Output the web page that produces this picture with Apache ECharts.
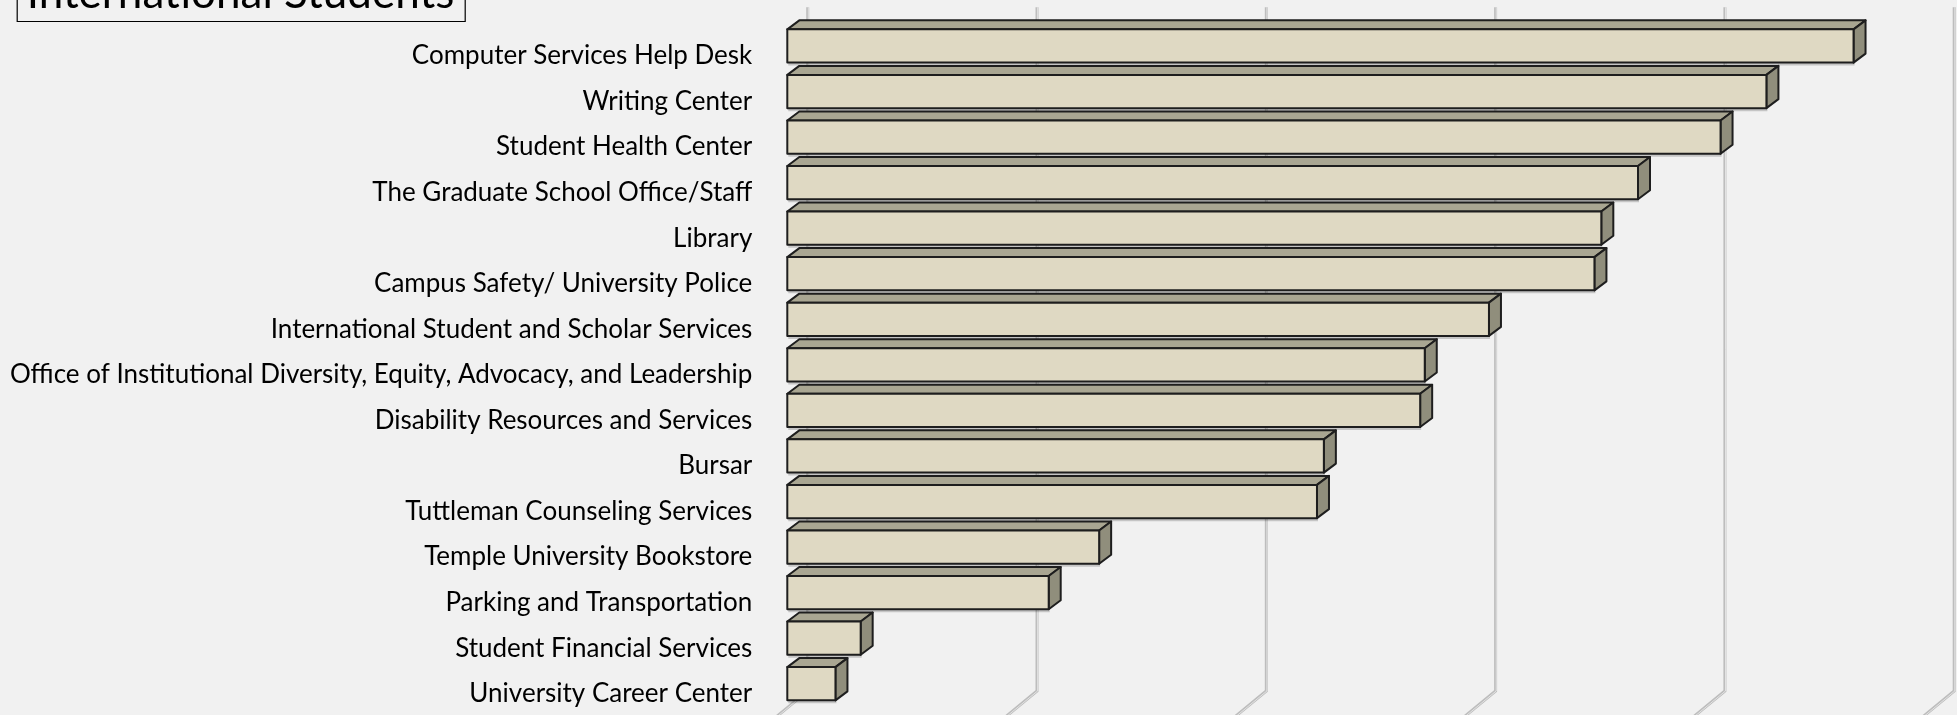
<!DOCTYPE html>
<html>
<head>
<meta charset="utf-8">
<script src="https://cdn.jsdelivr.net/npm/echarts@6/dist/echarts.min.js"></script>
<style>
html,body{margin:0;padding:0;background:#f1f1f1;}
#chart{width:1957px;height:715px;}
</style>
</head>
<body>
<div id="chart"></div>
<script>
const titleText = 'International Students';
const categories = [
  'Computer Services Help Desk',
  'Writing Center',
  'Student Health Center',
  'The Graduate School Office/Staff',
  'Library',
  'Campus Safety/ University Police',
  'International Student and Scholar Services',
  'Office of Institutional Diversity, Equity, Advocacy, and Leadership',
  'Disability Resources and Services',
  'Bursar',
  'Tuttleman Counseling Services',
  'Temple University Bookstore',
  'Parking and Transportation',
  'Student Financial Services',
  'University Career Center'
];
const values = [46.5, 42.7, 40.7, 37.1, 35.5, 35.2, 30.6, 27.8, 27.6, 23.4, 23.1, 13.6, 11.4, 3.2, 2.1];
const gridTicks = [0, 10, 20, 30, 40, 50];

const chart = echarts.init(document.getElementById('chart'), null, {renderer: 'canvas'});

const DX = 12, DY = 9;          // bar depth offsets
const WALL_DX = 20.4;           // back wall offset from front plane
const FRONT = '#dfd9c3', TOP = '#a9a692', SIDE = '#908e7c', EDGE = '#1e1e1e';

function renderBar(params, api) {
  const cat = api.value(1);
  const p0 = api.coord([0, cat]);
  const p1 = api.coord([api.value(0), cat]);
  const band = api.size([0, 1])[1];
  const h = band * 0.73;
  const x0 = p0[0], x1 = p1[0];
  const y0 = p0[1] - h / 2;
  const line = {stroke: EDGE, lineWidth: 2, lineJoin: 'round'};
  return {
    type: 'group',
    children: [
      {type: 'rect', shape: {x: x0 + 1, y: y0 + h, width: x1 - x0, height: 3},
       style: {fill: 'rgba(0,0,0,0.18)'}},
      {type: 'polygon', shape: {points: [[x0, y0], [x0 + DX, y0 - DY], [x1 + DX, y0 - DY], [x1, y0]]},
       style: Object.assign({fill: TOP}, line)},
      {type: 'polygon', shape: {points: [[x1, y0], [x1 + DX, y0 - DY], [x1 + DX, y0 + h - DY], [x1, y0 + h]]},
       style: Object.assign({fill: SIDE}, line)},
      {type: 'rect', shape: {x: x0, y: y0, width: x1 - x0, height: h},
       style: Object.assign({fill: FRONT}, line)}
    ]
  };
}

function renderGrid(params, api) {
  const cs = params.coordSys;
  const x = api.coord([api.value(0), 0])[0] + WALL_DX;
  const yTop = cs.y - 16;
  const yBot = cs.y + cs.height - 15.5;
  const ext = 60;
  const pts = [[x, yTop], [x, yBot], [x - ext * 1.216, yBot + ext]];
  return {
    type: 'group',
    children: [
      {type: 'polyline', shape: {points: pts}, style: {stroke: '#bdbdbd', lineWidth: 3, fill: null}},
      {type: 'polyline', shape: {points: pts.map(p => [p[0] + 0.6, p[1]])}, style: {stroke: '#e2e2e2', lineWidth: 1, fill: null}}
    ]
  };
}

chart.setOption({
  backgroundColor: '#f1f1f1',
  animation: false,
  title: {
    text: titleText,
    left: 16.7,
    top: -38,
    borderColor: '#000',
    borderWidth: 1.2,
    padding: [8, 11, 4, 10],
    textStyle: {fontFamily: 'Lato', fontSize: 44, fontWeight: 'normal', color: '#000', lineHeight: 48}
  },
  grid: {left: 787.3, top: 23.2, width: 1146.5, height: 683.3, containLabel: false},
  xAxis: {
    type: 'value', min: 0, max: 50, interval: 10,
    axisLabel: {show: false}, axisLine: {show: false}, axisTick: {show: false}, splitLine: {show: false}
  },
  yAxis: {
    type: 'category', data: categories, inverse: true,
    axisLine: {show: false}, axisTick: {show: false},
    axisLabel: {fontFamily: 'Lato', fontSize: 26, color: '#000', margin: 35,
                verticalAlign: 'top', lineHeight: 20}
  },
  series: [
    {type: 'custom', z: 1, silent: true, renderItem: renderGrid,
     data: gridTicks.map(v => [v, 0]), encode: {x: 0, y: 1}, clip: false},
    {type: 'custom', z: 5, renderItem: renderBar,
     data: values.map((v, i) => [v, i]), encode: {x: 0, y: 1}, clip: false}
  ]
});
</script>
</body>
</html>
